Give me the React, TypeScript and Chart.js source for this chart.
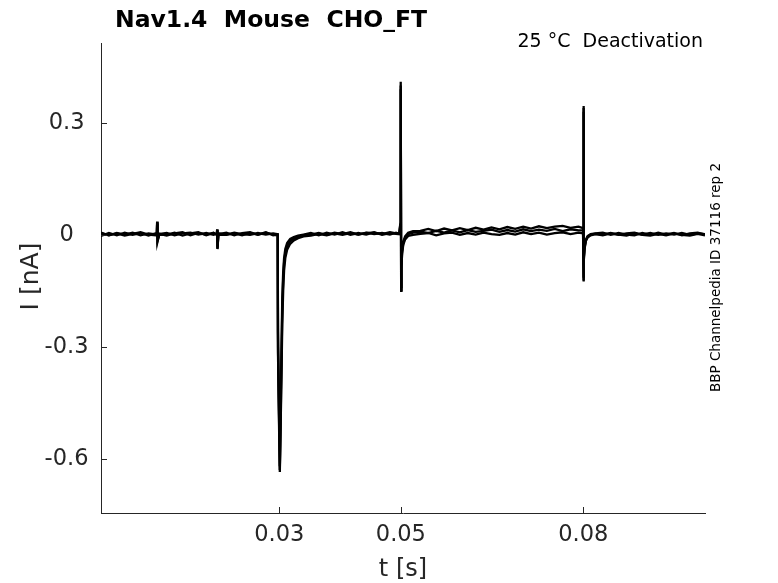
import React, { useEffect, useRef } from "react";
import { Chart, registerables } from "chart.js";

Chart.register(...registerables);

const TITLE = "Nav1.4  Mouse  CHO_FT";
const SUBTITLE = "25 °C  Deactivation";
const SIDE_NOTE = "BBP Channelpedia ID 37116 rep 2";
const X_TITLE = "t [s]";
const Y_TITLE = "I [nA]";

const X_MIN = 0.0007;
const X_MAX = 0.1;
const Y_MIN = -0.745;
const Y_MAX = 0.514;

const X_TICKS = [0.03, 0.05, 0.08];
const X_TICK_LABELS = ["0.03", "0.05", "0.08"];
const Y_TICKS = [-0.6, -0.3, 0, 0.3];
const Y_TICK_LABELS = ["-0.6", "-0.3", "0", "0.3"];

// sample times [s]
const T = [
  0.0007, 0.002, 0.0033, 0.0046, 0.0059, 0.0072, 0.0085, 0.0097,
  0.00988, 0.00993, 0.01, 0.0103,
  0.0115, 0.0128, 0.0141, 0.0154, 0.0167, 0.018, 0.0192,
  0.01975, 0.0198, 0.01985, 0.02,
  0.0213, 0.0226, 0.0239, 0.0252, 0.0265, 0.0278, 0.029,
  0.02975, 0.0298, 0.03, 0.0301, 0.0303, 0.0305, 0.03065, 0.0308, 0.031, 0.0313, 0.0318, 0.0324, 0.0331, 0.034,
  0.0352, 0.0365, 0.0378, 0.0391, 0.0404, 0.0417, 0.043, 0.0443, 0.0456, 0.0469, 0.0482, 0.0492,
  0.04975, 0.0499, 0.04995, 0.05, 0.05005, 0.0501, 0.0502, 0.0504, 0.0507, 0.0512, 0.052,
  0.0532, 0.0545, 0.0558, 0.0571, 0.0584, 0.0597, 0.061, 0.0623, 0.0636, 0.0649, 0.0662, 0.0675, 0.0688, 0.0701, 0.0714, 0.0727, 0.074, 0.0753, 0.0766, 0.0779, 0.0792,
  0.07995, 0.08, 0.08005, 0.0801, 0.0802, 0.0804, 0.0807, 0.0812, 0.082,
  0.0832, 0.0845, 0.0858, 0.0871, 0.0884, 0.0897, 0.091, 0.0923, 0.0936, 0.0949, 0.0962, 0.0975, 0.0988, 0.1,
];

// current traces [nA]
const SWEEP_A = [
  0.004, -0.001, 0.005, 0.001, 0.006, -0.001, 0.004, 0.001,
  0.003, 0.036, -0.015, 0.002,
  0.005, -0.001, 0.004, 0.006, 0.001, 0.005, 0.0,
  0.003, 0.015, -0.037, 0.004,
  0.001, 0.006, 0.002, 0.0, 0.005, 0.001, 0.004,
  0.002, -0.3, -0.52, -0.635, -0.42, -0.2, -0.12, -0.075, -0.048, -0.03, -0.017, -0.01, -0.005, -0.001,
  0.001, 0.005, 0.0, 0.006, 0.002, 0.007, 0.001, 0.005, 0.006, 0.002, 0.007, 0.004,
  0.005, 0.028, 0.015, 0.41, -0.148, -0.085, -0.045, -0.022, -0.008, 0.002, 0.006,
  0.009, 0.005, 0.011, 0.006, 0.012, 0.007, 0.013, 0.008, 0.011, 0.014, 0.008, 0.013, 0.009, 0.015, 0.01, 0.014, 0.011, 0.016, 0.01, 0.015, 0.012,
  0.012, 0.345, -0.122, -0.07, -0.035, -0.015, -0.005, 0.001, 0.003,
  0.001, 0.005, 0.0, 0.004, 0.006, 0.001, 0.005, 0.0, 0.004, 0.001, 0.005, 0.0, 0.004, 0.002,
];
const SWEEP_B = [
  -0.003, 0.005, -0.001, 0.006, 0.0, 0.005, -0.002, 0.004,
  0.001, 0.03, -0.012, 0.0,
  0.001, 0.006, -0.002, 0.004, 0.007, -0.001, 0.005,
  0.001, 0.012, -0.034, 0.002,
  0.006, -0.001, 0.005, 0.007, 0.0, 0.006, 0.001,
  -0.001, -0.26, -0.5, -0.62, -0.45, -0.24, -0.15, -0.095, -0.062, -0.04, -0.024, -0.015, -0.009, -0.004,
  -0.002, 0.003, -0.001, 0.004, 0.0, 0.005, 0.001, 0.006, 0.002, 0.005, 0.001, 0.006,
  0.003, 0.024, 0.012, 0.39, -0.14, -0.08, -0.04, -0.018, -0.004, 0.006, 0.01,
  0.011, 0.016, 0.01, 0.017, 0.012, 0.018, 0.013, 0.019, 0.014, 0.02, 0.015, 0.021, 0.016, 0.022, 0.017, 0.023, 0.018, 0.022, 0.024, 0.019, 0.022,
  0.018, 0.33, -0.115, -0.065, -0.032, -0.013, -0.003, 0.002, 0.004,
  0.006, 0.0, 0.005, 0.001, -0.001, 0.005, 0.0, 0.006, 0.001, 0.005, -0.001, 0.004, 0.006, 0.001,
];
const SWEEP_C = [
  0.006, -0.001, 0.004, -0.002, 0.003, 0.007, 0.001, -0.001,
  0.002, 0.034, -0.018, 0.003,
  -0.002, 0.004, 0.007, -0.001, 0.005, 0.001, 0.006,
  0.0, 0.014, -0.038, 0.001,
  0.0, 0.004, -0.001, 0.005, 0.001, 0.007, -0.001,
  0.001, -0.32, -0.54, -0.63, -0.38, -0.17, -0.1, -0.062, -0.038, -0.022, -0.011, -0.006, -0.002, 0.001,
  0.005, -0.001, 0.006, 0.001, 0.007, 0.0, 0.005, 0.001, 0.007, 0.0, 0.005, 0.003,
  0.002, 0.03, 0.01, 0.4, -0.15, -0.09, -0.05, -0.026, -0.012, -0.003, 0.0,
  0.003, 0.005, -0.001, 0.004, 0.006, 0.0, 0.005, 0.001, 0.006, 0.002, 0.0, 0.005, 0.001, 0.007, 0.002, 0.006, 0.001, 0.005, 0.007, 0.002, 0.006,
  0.004, 0.34, -0.125, -0.075, -0.038, -0.017, -0.007, -0.001, 0.002,
  -0.001, 0.004, 0.001, -0.002, 0.004, 0.0, -0.002, 0.003, -0.001, 0.004, 0.0, -0.002, 0.003, -0.001,
];
const SWEEPS = [SWEEP_A, SWEEP_B, SWEEP_C];

const AXIS = "#262626";
const FONT = '"DejaVu Sans", sans-serif';

const decor = {
  id: "decor",
  afterDraw(chart: any) {
    const { ctx, chartArea: ca, scales } = chart;
    ctx.save();
    ctx.strokeStyle = AXIS;
    ctx.lineWidth = 1;
    scales.x.ticks.forEach((t: any) => {
      const px = Math.round(scales.x.getPixelForValue(t.value)) + 0.5;
      ctx.beginPath();
      ctx.moveTo(px, ca.bottom);
      ctx.lineTo(px, ca.bottom - 6);
      ctx.stroke();
    });
    scales.y.ticks.forEach((t: any) => {
      const py = Math.round(scales.y.getPixelForValue(t.value)) + 0.5;
      ctx.beginPath();
      ctx.moveTo(ca.left, py);
      ctx.lineTo(ca.left + 6, py);
      ctx.stroke();
    });

    ctx.fillStyle = "#000";
    ctx.textBaseline = "alphabetic";
    ctx.font = `bold 23.5px ${FONT}`;
    ctx.textAlign = "left";
    ctx.fillText(TITLE, 115, 27);

    ctx.font = `19px ${FONT}`;
    ctx.textAlign = "right";
    ctx.fillText(SUBTITLE, 703, 47);

    ctx.fillStyle = AXIS;
    ctx.font = `24px ${FONT}`;
    ctx.textAlign = "center";
    ctx.fillText(X_TITLE, 403, 576);

    ctx.save();
    ctx.translate(38, 276.5);
    ctx.rotate(-Math.PI / 2);
    ctx.font = `25px ${FONT}`;
    ctx.fillText(Y_TITLE, 0, 0);
    ctx.restore();

    ctx.save();
    ctx.fillStyle = "#000";
    ctx.font = `13.5px ${FONT}`;
    ctx.translate(720, 277.5);
    ctx.rotate(-Math.PI / 2);
    ctx.fillText(SIDE_NOTE, 0, 0);
    ctx.restore();
    ctx.restore();
  },
};

export default function App() {
  const ref = useRef<HTMLCanvasElement>(null);
  useEffect(() => {
    document.body.style.margin = "0";
    const canvas = ref.current;
    if (!canvas) return;
    const chart = new Chart(canvas, {
      type: "scatter",
      data: {
        datasets: SWEEPS.map((vals) => ({
          data: T.map((t, i) => ({ x: t, y: vals[i] })),
          showLine: true,
          borderColor: "#000",
          backgroundColor: "#000",
          borderWidth: 2.3,
          pointRadius: 0,
          tension: 0,
        })),
      },
      options: {
        responsive: false,
        animation: false,
        layout: { padding: { left: 0, top: 43, right: 73, bottom: 0 } },
        plugins: {
          legend: { display: false },
          tooltip: { enabled: false },
          title: { display: false },
        },
        scales: {
          x: {
            type: "linear",
            min: X_MIN,
            max: X_MAX,
            grid: { display: false, drawTicks: false },
            border: { display: true, color: AXIS, width: 1 },
            ticks: {
              font: { family: FONT, size: 22.5 },
              color: AXIS,
              padding: 9,
              autoSkip: false,
              maxRotation: 0,
              callback: (_v: any, i: number) => X_TICK_LABELS[i],
            },
            afterBuildTicks: (s: any) => {
              s.ticks = X_TICKS.map((v) => ({ value: v }));
            },
            afterFit: (s: any) => {
              s.height = 70;
            },
          },
          y: {
            type: "linear",
            min: Y_MIN,
            max: Y_MAX,
            grid: { display: false, drawTicks: false },
            border: { display: true, color: AXIS, width: 1 },
            ticks: {
              font: { family: FONT, size: 22.5 },
              color: AXIS,
              padding: 12.5,
              crossAlign: "center",
              autoSkip: false,
              callback: (_v: any, i: number) => Y_TICK_LABELS[i],
            },
            afterBuildTicks: (s: any) => {
              s.ticks = Y_TICKS.map((v) => ({ value: v }));
            },
            afterFit: (s: any) => {
              s.width = 101;
            },
          },
        },
      },
      plugins: [decor],
    } as any);
    return () => chart.destroy();
  }, []);
  return (
    <div style={{ position: "relative", width: 778, height: 583, background: "#fff" }}>
      <canvas ref={ref} width={778} height={583} style={{ display: "block", width: 778, height: 583 }} />
    </div>
  );
}
